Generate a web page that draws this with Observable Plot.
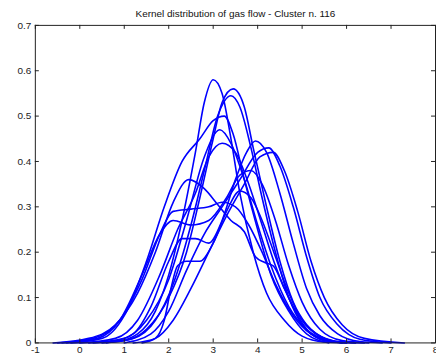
<!DOCTYPE html>
<html>
<head>
<meta charset="utf-8">
<script src="https://cdn.jsdelivr.net/npm/d3@7"></script>
<script src="https://cdn.jsdelivr.net/npm/@observablehq/plot@0.6"></script>
<style>
  html, body { margin: 0; padding: 0; background: #fff; overflow: hidden; }
  #chart { width: 436px; height: 362px; overflow: hidden; }
</style>
</head>
<body>
<div id="chart"></div>
<script>
const title = "Kernel distribution of gas flow - Cluster n. 116";
const xTicks = [-1, 0, 1, 2, 3, 4, 5, 6, 7, 8];
const yTicks = [0, 0.1, 0.2, 0.3, 0.4, 0.5, 0.6, 0.7];

// Kernel density curves: [x, density]
const curve1 = [[-0.2,0],[0.8,0.003],[1.3,0.02],[1.7,0.07],[2.0,0.15],[2.3,0.27],[2.6,0.42],[2.8,0.53],[3.0,0.58],[3.2,0.55],[3.4,0.45],[3.6,0.33],[3.9,0.2],[4.2,0.11],[4.6,0.05],[5.0,0.015],[5.5,0.002],[6.0,0]];
const curve2 = [[0.3,0],[1.0,0.005],[1.5,0.03],[2.0,0.1],[2.4,0.2],[2.7,0.32],[3.0,0.45],[3.2,0.53],[3.45,0.56],[3.7,0.52],[3.9,0.43],[4.2,0.3],[4.5,0.18],[4.8,0.09],[5.1,0.04],[5.5,0.01],[6.0,0.001],[6.4,0]];
const curve3 = [[0.5,0],[1.2,0.01],[1.7,0.05],[2.1,0.13],[2.5,0.26],[2.8,0.38],[3.1,0.5],[3.4,0.545],[3.6,0.52],[3.85,0.43],[4.1,0.32],[4.4,0.2],[4.7,0.1],[5.0,0.04],[5.4,0.01],[5.9,0]];
const curve4 = [[-0.3,0],[0.5,0.01],[1.0,0.06],[1.5,0.18],[1.9,0.3],[2.3,0.4],[2.7,0.45],[3.0,0.49],[3.25,0.5],[3.45,0.46],[3.7,0.36],[4.0,0.25],[4.3,0.15],[4.7,0.07],[5.1,0.02],[5.6,0]];
const curve5 = [[0.2,0],[1.0,0.01],[1.5,0.05],[2.0,0.14],[2.4,0.27],[2.8,0.41],[3.15,0.47],[3.4,0.44],[3.7,0.36],[4.0,0.26],[4.3,0.17],[4.7,0.08],[5.1,0.03],[5.6,0.005],[6.0,0]];
const curve6 = [[0.0,0],[0.8,0.01],[1.3,0.05],[1.8,0.15],[2.2,0.25],[2.6,0.33],[2.9,0.41],[3.2,0.44],[3.5,0.42],[3.8,0.35],[4.1,0.26],[4.4,0.17],[4.8,0.08],[5.2,0.03],[5.7,0.005],[6.2,0]];
const curve7 = [[0.6,0],[1.2,0.02],[1.6,0.08],[2.0,0.18],[2.3,0.23],[2.6,0.23],[2.9,0.22],[3.2,0.27],[3.5,0.36],[3.75,0.42],[3.95,0.445],[4.2,0.42],[4.5,0.33],[4.8,0.22],[5.1,0.12],[5.4,0.06],[5.8,0.02],[6.3,0.003],[6.8,0]];
const curve8 = [[1.0,0],[1.6,0.02],[2.0,0.07],[2.4,0.16],[2.8,0.24],[3.2,0.3],[3.6,0.36],[4.0,0.42],[4.25,0.43],[4.5,0.39],[4.8,0.3],[5.1,0.19],[5.4,0.1],[5.8,0.04],[6.3,0.008],[7.0,0]];
const curve9 = [[1.2,0],[1.7,0.01],[2.1,0.05],[2.5,0.12],[2.9,0.2],[3.3,0.28],[3.7,0.35],[4.05,0.41],[4.35,0.42],[4.6,0.38],[4.9,0.29],[5.2,0.18],[5.5,0.1],[5.9,0.04],[6.4,0.01],[7.3,0]];
const curve10 = [[-0.6,0],[0.2,0.01],[0.8,0.04],[1.3,0.11],[1.7,0.2],[2.1,0.31],[2.45,0.36],[2.8,0.34],[3.1,0.305],[3.4,0.27],[3.7,0.245],[3.95,0.19],[4.15,0.178],[4.35,0.17],[4.6,0.12],[4.9,0.06],[5.2,0.02],[5.6,0.003],[6.0,0]];
const curve11 = [[1.4,0],[1.7,0.01],[1.9,0.05],[2.05,0.12],[2.2,0.17],[2.4,0.18],[2.7,0.18],[3.0,0.22],[3.3,0.29],[3.6,0.335],[3.85,0.32],[4.1,0.27],[4.4,0.19],[4.7,0.11],[5.0,0.05],[5.4,0.015],[5.9,0]];
const curve12 = [[-0.5,0],[0.3,0.01],[0.9,0.05],[1.4,0.14],[1.8,0.24],[2.1,0.29],[2.5,0.295],[2.9,0.3],[3.2,0.31],[3.5,0.3],[3.8,0.26],[4.1,0.2],[4.4,0.13],[4.8,0.06],[5.2,0.02],[5.7,0.003],[6.2,0]];
const curve13 = [[-0.4,0],[0.4,0.01],[0.9,0.05],[1.4,0.15],[1.8,0.24],[2.1,0.27],[2.5,0.26],[2.9,0.27],[3.3,0.32],[3.6,0.37],[3.85,0.38],[4.1,0.35],[4.4,0.27],[4.7,0.17],[5.0,0.09],[5.4,0.03],[5.9,0.005],[6.5,0]];

const curves = [curve1, curve2, curve3, curve4, curve5, curve6, curve7, curve8, curve9, curve10, curve11, curve12, curve13];
const rows = curves.flatMap((c, i) => c.map(([x, y]) => ({series: i, x, y})));

const W = 438, H = 362, mL = 35, mR = 1, mT = 25, mB = 18;
const plotH = H - mT - mB, plotW = W - mL - mR;
const tick = 4;
const font = "Liberation Sans, Arial, sans-serif";

const chart = Plot.plot({
  width: W, height: H,
  marginLeft: mL, marginRight: mR, marginTop: mT, marginBottom: mB,
  style: {fontFamily: font, fontSize: "10px", color: "#222", background: "#fff", overflow: "visible"},
  x: {domain: [-1, 8], label: null},
  y: {domain: [0, 0.7], label: null},
  marks: [
    Plot.line(rows, {x: "x", y: "y", z: "series", stroke: "#0000ff", strokeWidth: 1.6, curve: "monotone-x"}),
    Plot.frame({stroke: "#222", strokeWidth: 1}),
    Plot.tickX(xTicks, {x: d => d, stroke: "#222", insetTop: plotH - tick}),
    Plot.tickX(xTicks, {x: d => d, stroke: "#222", insetBottom: plotH - tick}),
    Plot.tickY(yTicks, {y: d => d, stroke: "#222", insetRight: plotW - tick}),
    Plot.tickY(yTicks, {y: d => d, stroke: "#222", insetLeft: plotW - tick}),
    Plot.axisX(xTicks, {tickSize: 0, tickPadding: 3, fontSize: 10, fill: "#222", label: null, tickFormat: d => String(d)}),
    Plot.axisY(yTicks, {tickSize: 0, tickPadding: 4, fontSize: 10, fill: "#222", label: null, tickFormat: d => String(d)}),
    Plot.text([title], {frameAnchor: "top", dy: -16, fontSize: 10, fill: "#111", fontFamily: font})
  ]
});
document.getElementById("chart").appendChild(chart);
</script>
</body>
</html>
